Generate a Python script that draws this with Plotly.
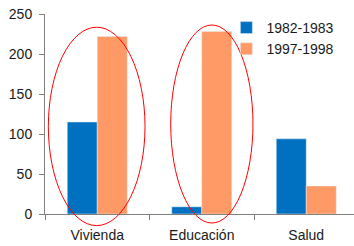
import plotly.graph_objects as go

categories = ["Vivienda", "Educación", "Salud"]
series_1982 = [115, 9, 94]
series_1997 = [222, 228, 35]
name_1982 = "1982-1983"
name_1997 = "1997-1998"
y_ticks = [0, 50, 100, 150, 200, 250]

# highlight ellipses: (x0, x1) in category units, (y0, y1) in paper units
ellipses = [(-0.468, 0.457, -0.058, 0.934), (0.703, 1.49, -0.045, 0.945)]

fig = go.Figure()
fig.add_trace(go.Bar(x=categories, y=series_1982, name=name_1982,
                     marker_color="#0070C0"))
fig.add_trace(go.Bar(x=categories, y=series_1997, name=name_1997,
                     marker_color="#FF9966"))

for x0, x1, y0, y1 in ellipses:
    fig.add_shape(type="circle", xref="x", yref="paper", x0=x0, x1=x1, y0=y0, y1=y1,
                  line=dict(color="#FF0000", width=1), layer="above")

font = dict(family="Liberation Sans, Arial, sans-serif", size=14, color="#1a1a1a")
fig.update_layout(
    width=354, height=246,
    margin=dict(l=45, r=0, t=14, b=32),
    paper_bgcolor="white", plot_bgcolor="white",
    barmode="group", bargap=0.426, bargroupgap=0,
    font=font,
    showlegend=True,
    legend=dict(x=0.587, y=1.01, xanchor="left", yanchor="top",
                font=dict(family="Liberation Sans, Arial, sans-serif", size=14, color="#1a1a1a"),
                bgcolor="rgba(0,0,0,0)", tracegroupgap=0),
)
fig.update_xaxes(range=[-0.5, 2.457], showline=True, linecolor="#808080", linewidth=1,
                 ticks="outside", tickson="boundaries", ticklen=5, tickcolor="#808080",
                 showgrid=False, zeroline=False, ticklabelstandoff=8)
fig.update_yaxes(range=[0, 250], tickvals=y_ticks, showline=True, linecolor="#808080",
                 linewidth=1, ticks="outside", ticklen=5, tickcolor="#808080",
                 showgrid=False, zeroline=False, ticklabelstandoff=4)

fig.write_html("out.html", config={"displayModeBar": False},
               post_script="document.body.style.margin='0';document.body.style.overflow='hidden';")
